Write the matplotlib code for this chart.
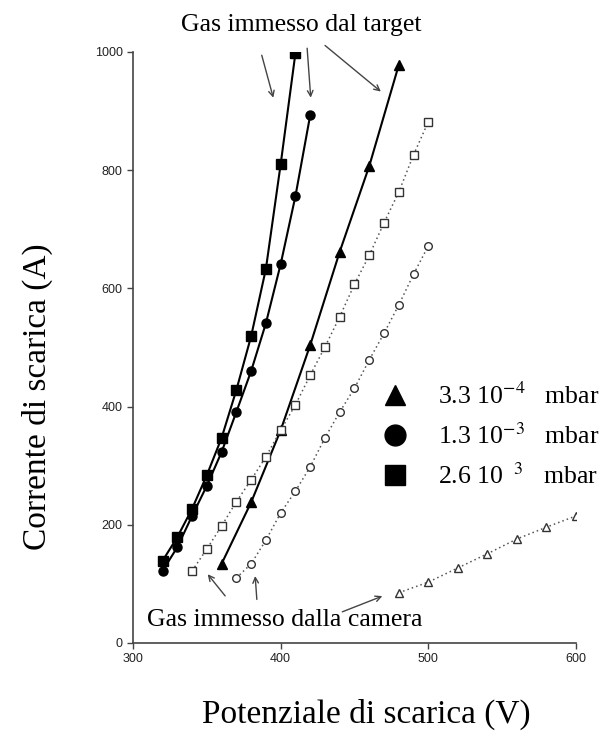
import matplotlib
matplotlib.use("Agg")
import matplotlib.pyplot as plt
from matplotlib.lines import Line2D

plt.rcParams['mathtext.fontset'] = 'stix'

# Filled series (gas from target), solid lines
x_tri_f = [360, 380, 400, 420, 440, 460, 480]
y_tri_f = [134, 238, 360, 504, 662, 807, 978]
x_cir_f = [320, 330, 340, 350, 360, 370, 380, 390, 400, 410, 420]
y_cir_f = [122, 162, 215, 266, 323, 391, 460, 541, 641, 756, 893]
x_sq_f = [320, 330, 340, 350, 360, 370, 380, 390, 400, 410]
y_sq_f = [139, 179, 227, 284, 347, 428, 519, 633, 810, 998]

# Open series (gas from chamber), dotted lines
x_tri_o = [480, 500, 520, 540, 560, 580, 600]
y_tri_o = [85, 103, 127, 151, 176, 196, 215]
x_cir_o = [370, 380, 390, 400, 410, 420, 430, 440, 450, 460, 470, 480, 490, 500]
y_cir_o = [110, 134, 174, 220, 257, 298, 347, 391, 431, 479, 524, 572, 624, 672]
x_sq_o = [340, 350, 360, 370, 380, 390, 400, 410, 420, 430, 440, 450, 460, 470, 480, 490, 500]
y_sq_o = [122, 159, 198, 239, 276, 315, 360, 403, 453, 501, 552, 607, 656, 711, 763, 826, 882]

legend_labels = [r"3.3 10$^{-4}$   mbar", r"1.3 10$^{-3}$   mbar", r"2.6 10$^{\ \ \,3}$   mbar"]
x_ticks = [300, 400, 500, 600]
y_ticks = [0, 200, 400, 600, 800, 1000]

fig = plt.figure(figsize=(6.14, 7.31), dpi=100)
ax = fig.add_axes([0.2166, 0.1204, 0.7215, 0.8085])

ms_f = 6.5
for x, y, m in [(x_tri_f, y_tri_f, '^'), (x_cir_f, y_cir_f, 'o'), (x_sq_f, y_sq_f, 's')]:
    ax.plot(x, y, color='black', lw=1.5, marker=m, ms=ms_f, mfc='black', mec='black')

for x, y, m in [(x_tri_o, y_tri_o, '^'), (x_cir_o, y_cir_o, 'o'), (x_sq_o, y_sq_o, 's')]:
    ax.plot(x, y, color='#555555', lw=1.1, ls=(0, (1, 2)), marker=m, ms=5.5,
            mfc='white', mec='#333333', mew=1.0)

ax.set_xlim(300, 600)
ax.set_ylim(0, 1000)
ax.set_xticks(x_ticks)
ax.set_yticks(y_ticks)
for s in ['top', 'right']:
    ax.spines[s].set_visible(False)
for s in ['left', 'bottom']:
    ax.spines[s].set_color('#444444')
    ax.spines[s].set_linewidth(1.2)
ax.tick_params(direction='out', length=4, width=1, colors='#444444', labelsize=9)
for lab in ax.get_xticklabels() + ax.get_yticklabels():
    lab.set_fontfamily('Liberation Sans')
    lab.set_color('#222222')

ax.set_xlabel("Potenziale di scarica (V)", fontfamily='Liberation Serif', fontsize=24)
ax.set_ylabel("Corrente di scarica (A)", fontfamily='Liberation Serif', fontsize=24)
ax.xaxis.set_label_coords(0.526, -0.095)
ax.yaxis.set_label_coords(-0.18, 0.416)

# Legend
handles = [Line2D([], [], ls='none', marker=m, ms=15, color='black') for m in ['^', 'o', 's']]
ax.legend(handles, legend_labels, loc='upper left', bbox_to_anchor=(0.556, 0.44),
          frameon=False, prop={'family': 'Liberation Serif', 'size': 18.5},
          handlelength=1.2, handletextpad=1.08, labelspacing=0.56,
          borderpad=0, borderaxespad=0)

# Annotations
arrowprops = dict(arrowstyle='->', color='#444444', lw=1.0)
ax.text(414, 1045, "Gas immesso dal target", fontfamily='Liberation Serif', fontsize=18.5,
        ha='center', va='center', clip_on=False)
ax.annotate("", xy=(395.5, 918), xytext=(386.7, 999), arrowprops=arrowprops, annotation_clip=False)
ax.annotate("", xy=(420.5, 918), xytext=(417.8, 1011), arrowprops=arrowprops, annotation_clip=False)
ax.annotate("", xy=(469.3, 930), xytext=(428.6, 1014), arrowprops=arrowprops, annotation_clip=False)

ax.text(403, 39, "Gas immesso dalla camera", fontfamily='Liberation Serif', fontsize=18.5,
        ha='center', va='center')
ax.annotate("", xy=(349.4, 120), xytext=(363.6, 76), arrowprops=arrowprops)
ax.annotate("", xy=(382.6, 118), xytext=(384, 69), arrowprops=arrowprops)
ax.annotate("", xy=(470.6, 81), xytext=(440, 51), arrowprops=arrowprops)

fig.savefig("out.png", dpi=100)
